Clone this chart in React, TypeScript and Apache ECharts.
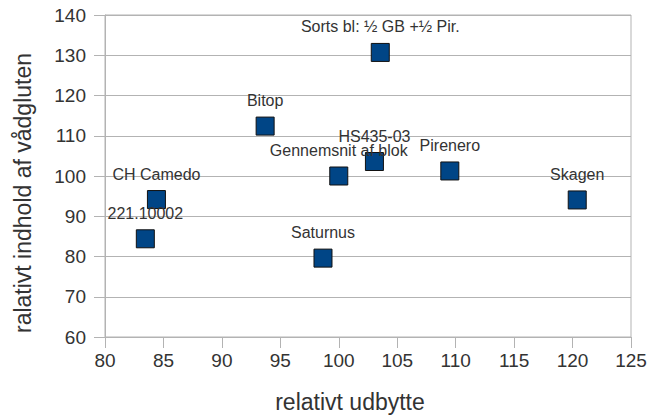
import React, { useEffect, useRef } from "react";
import * as echarts from "echarts";

const names = [
  "221.10002",
  "CH Camedo",
  "Bitop",
  "Saturnus",
  "Gennemsnit af blok",
  "HS435-03",
  "Sorts bl: ½ GB +½ Pir.",
  "Pirenero",
  "Skagen",
];
const yieldValues = [83.45, 84.4, 93.7, 98.65, 100.0, 103.05, 103.55, 109.5, 120.4];
const glutenValues = [84.4, 94.15, 112.4, 79.6, 100.0, 103.6, 130.7, 101.25, 94.05];

const xTitle = "relativt udbytte";
const yTitle = "ralativt indhold af vådgluten";

export default function App() {
  const ref = useRef<HTMLDivElement>(null);
  useEffect(() => {
    if (!ref.current) return;
    const chart = echarts.init(ref.current, null, { renderer: "svg" });
    const data = names.map((n, i) => ({ name: n, value: [yieldValues[i], glutenValues[i]] }));
    const grey = "#b3b3b3";
    const font = "'Liberation Sans', Arial, sans-serif";
    chart.setOption({
      animation: false,
      backgroundColor: "#ffffff",
      grid: {
        left: 105,
        right: 19,
        top: 15,
        bottom: 82,
        show: true,
        borderColor: grey,
        borderWidth: 1,
        backgroundColor: "transparent",
      },
      xAxis: {
        type: "value",
        min: 80,
        max: 125,
        interval: 5,
        axisLine: { show: true, lineStyle: { color: grey, width: 1 } },
        axisTick: { show: true, length: 11, lineStyle: { color: grey } },
        splitLine: { show: false },
        axisLabel: { color: "#333333", fontSize: 19, fontFamily: font, margin: 14 },
      },
      yAxis: {
        type: "value",
        min: 60,
        max: 140,
        interval: 10,
        axisLine: { show: true, lineStyle: { color: grey, width: 1 } },
        axisTick: { show: true, length: 11, lineStyle: { color: grey } },
        splitLine: { show: true, lineStyle: { color: grey, width: 1 } },
        axisLabel: { color: "#333333", fontSize: 19, fontFamily: font, margin: 19 },
      },
      graphic: [
        {
          type: "text",
          x: 350,
          y: 402,
          style: {
            text: xTitle,
            fill: "#333333",
            fontSize: 23,
            fontFamily: font,
            textAlign: "center",
            textVerticalAlign: "middle",
          },
        },
        {
          type: "text",
          x: 23,
          y: 193,
          rotation: Math.PI / 2,
          style: {
            text: yTitle,
            fill: "#333333",
            fontSize: 23,
            fontFamily: font,
            textAlign: "center",
            textVerticalAlign: "middle",
          },
        },
      ],
      series: [
        {
          type: "scatter",
          symbol: "rect",
          symbolSize: 18,
          data,
          itemStyle: { color: "#004586", borderColor: "#111111", borderWidth: 1, opacity: 1 },
          label: {
            show: true,
            position: "top",
            distance: 8,
            formatter: (p: any) => p.name,
            color: "#333333",
            fontSize: 16,
            fontFamily: font,
          },
        },
      ],
    });
    return () => chart.dispose();
  }, []);
  return (
    <div
      ref={ref}
      style={{ position: "fixed", left: 0, top: 0, width: 650, height: 419 }}
    />
  );
}
